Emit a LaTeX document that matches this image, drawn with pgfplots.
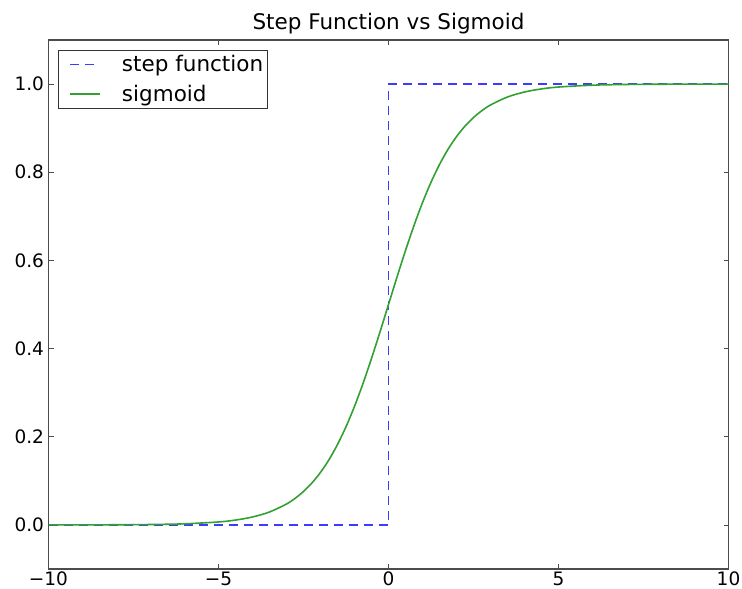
\documentclass[border=0pt]{standalone}
\usepackage{fontspec}
\setmainfont{DejaVu Sans}
\usepackage{pgfplots}
\pgfplotsset{compat=1.18}
\definecolor{mblue}{RGB}{60,60,255}
\definecolor{mgreen}{RGB}{50,160,50}
\begin{document}
\begin{tikzpicture}
\begin{axis}[
  width=680pt, height=529pt, scale only axis,
  xmin=-10, xmax=10, ymin=-0.1, ymax=1.1,
  xtick={-10,-5,0,5,10},
  xticklabels={−10,−5,0,5,10},
  ytick={0,0.2,0.4,0.6,0.8,1.0},
  yticklabels={0.0,0.2,0.4,0.6,0.8,1.0},
  tick align=inside, tick pos=both,
  major tick length=5pt,
  axis line style={black!70, line width=1.3pt},
  every tick/.style={black!70, line width=0.8pt},
  tick label style={font=\fontsize{18.5}{21}\selectfont},
  xticklabel style={yshift=0.5pt},
  yticklabel style={xshift=-1pt},
  title={Step Function vs Sigmoid},
  title style={font=\fontsize{21.5}{24}\selectfont, yshift=-4pt},
  legend style={font=\fontsize{21.5}{25}\selectfont, draw=black!80, line width=1pt,
    inner xsep=2pt, inner ysep=3pt, row sep=8pt,
    at={(0.0136,0.981)}, anchor=north west},
  legend cell align=left,
  legend image code/.code={\draw[#1] (0.35cm,0cm) -- (1.38cm,0cm); \path[draw=none] (0,0) -- (2.1cm,0);},
]
\addplot[color=mblue, dash pattern=on 9pt off 6pt, line width=1.8pt] coordinates {
(-10,0) (0,0) (0,1) (10,1)
};
\addlegendentry{step function}
\addplot[color=mgreen, line width=1.6pt, smooth] coordinates {
(-10,0.0000454) (-9,0.000123) (-8,0.000335) (-7,0.000911) (-6,0.002473)
(-5,0.006693) (-4.5,0.01099) (-4,0.01799) (-3.5,0.02931) (-3,0.04743)
(-2.75,0.06011) (-2.5,0.07586) (-2.25,0.09535) (-2,0.11920) (-1.75,0.14805)
(-1.5,0.18243) (-1.25,0.22270) (-1,0.26894) (-0.75,0.32082) (-0.5,0.37754)
(-0.25,0.43782) (0,0.5) (0.25,0.56218) (0.5,0.62246) (0.75,0.67918)
(1,0.73106) (1.25,0.77730) (1.5,0.81757) (1.75,0.85195) (2,0.88080)
(2.25,0.90465) (2.5,0.92414) (2.75,0.93989) (3,0.95257) (3.5,0.97069)
(4,0.98201) (4.5,0.98901) (5,0.993307) (6,0.997527) (7,0.999089)
(8,0.999665) (9,0.999877) (10,0.9999546)
};
\addlegendentry{sigmoid}
\coordinate (sw) at (rel axis cs:0,0);
\coordinate (ne) at (rel axis cs:1,1);
\end{axis}
\pgfresetboundingbox
\path[use as bounding box] ([xshift=-48.5pt,yshift=-20pt]sw) rectangle ([xshift=13.5pt,yshift=40pt]ne);
\end{tikzpicture}
\end{document}
